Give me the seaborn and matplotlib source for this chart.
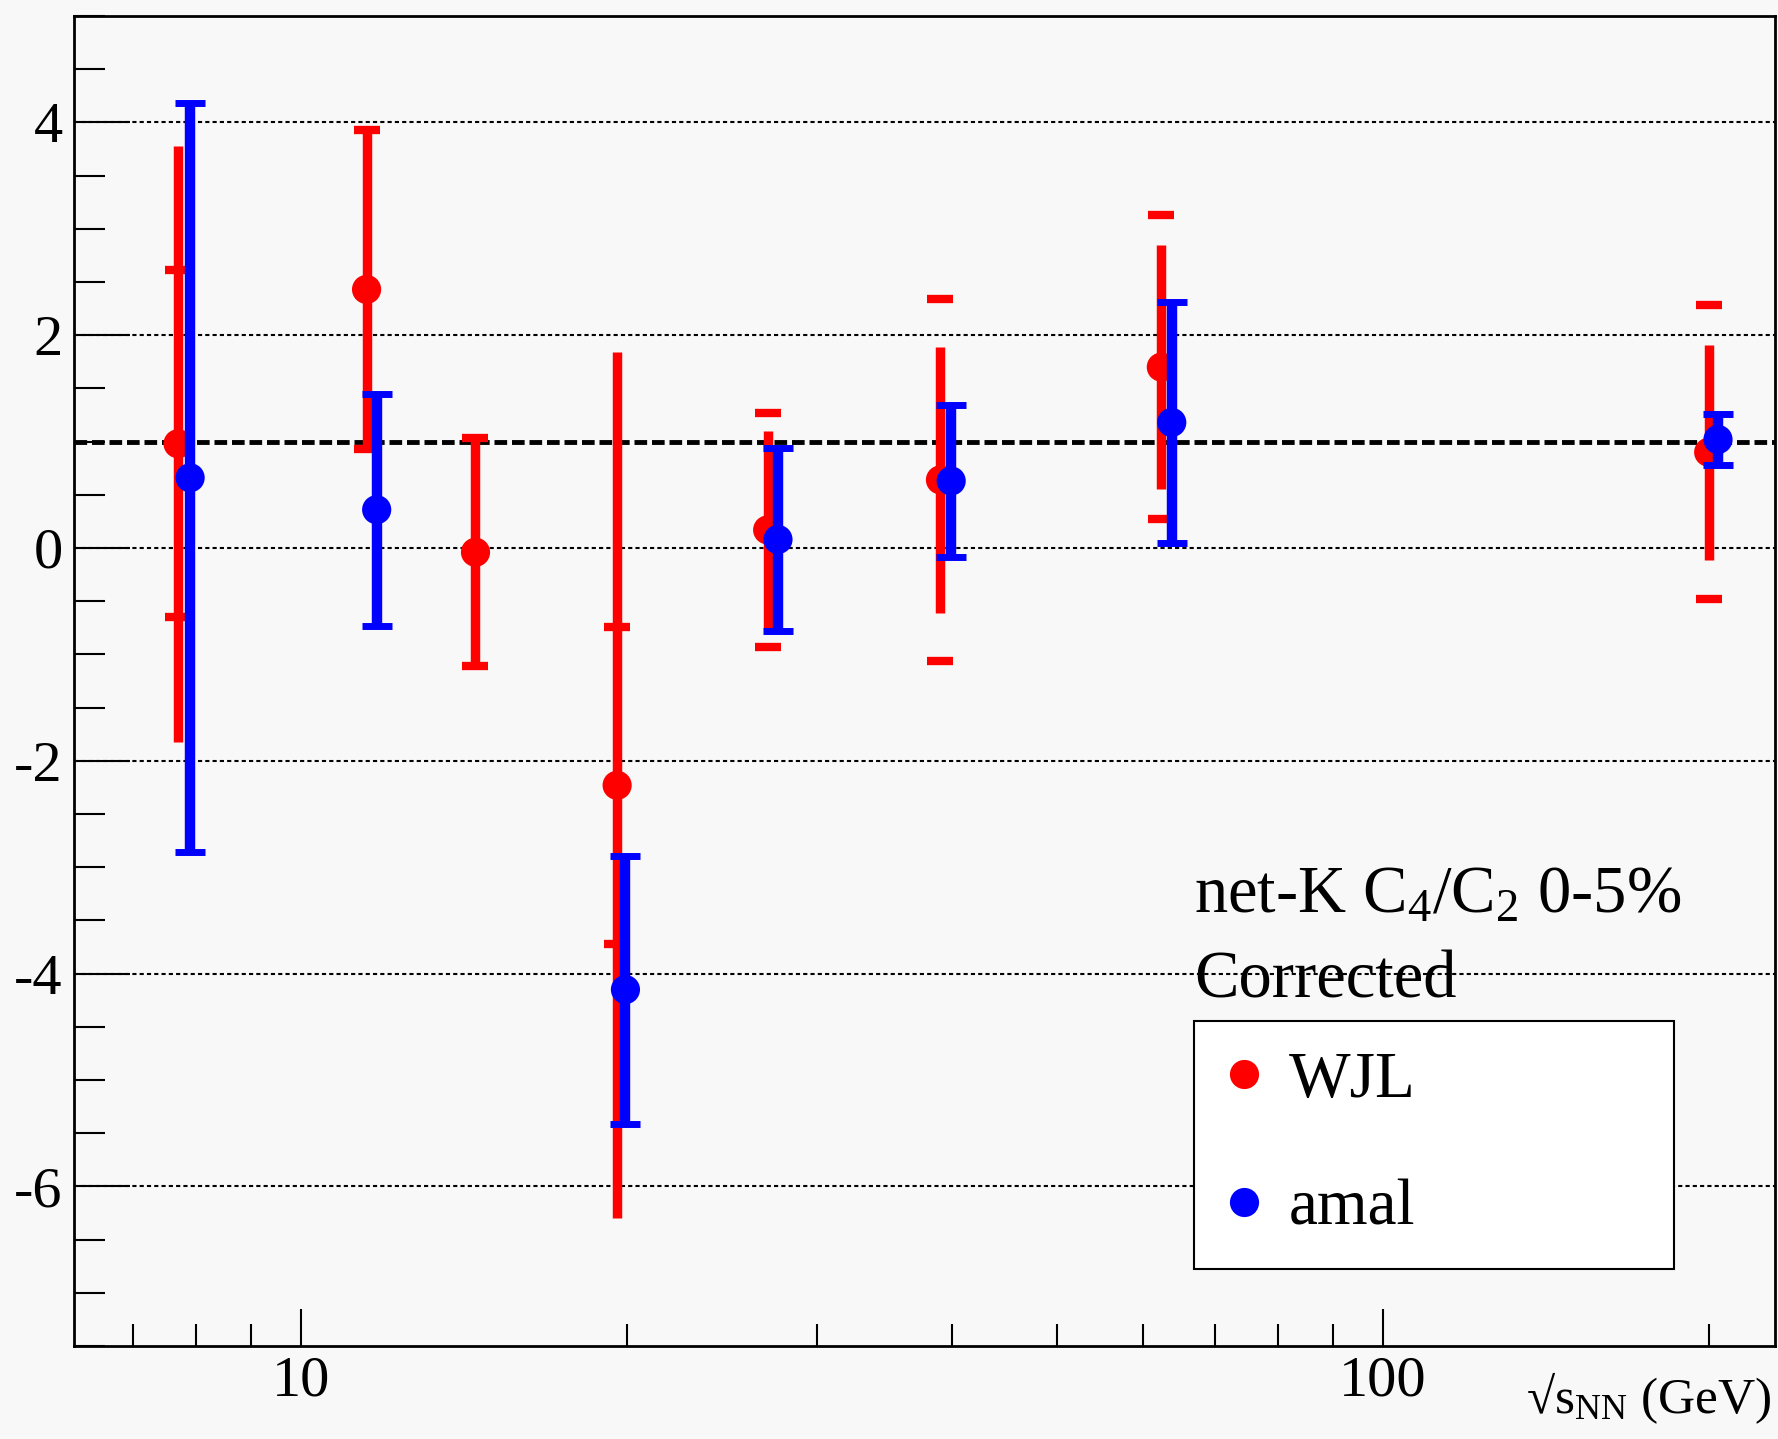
import numpy as np
import pandas as pd
import matplotlib
matplotlib.use("Agg")
import matplotlib.pyplot as plt
import seaborn as sns
from matplotlib.lines import Line2D
from matplotlib.ticker import FixedLocator, FixedFormatter, NullFormatter, MultipleLocator

# ---------------- data ----------------
wjl_energy = [7.7, 11.5, 14.5, 19.6, 27.0, 39.0, 62.4, 200.0]
wjl_value = [0.98, 2.43, -0.04, -2.23, 0.17, 0.64, 1.70, 0.90]
wjl_stat = [2.80, 1.50, 1.07, 4.07, 0.93, 1.25, 1.15, 1.01]
wjl_sys = [1.63, 1.50, 1.07, 1.49, 1.10, 1.70, 1.43, 1.38]

amal_energy = [7.9, 11.75, 19.95, 27.6, 39.9, 63.8, 204.0]
amal_value = [0.66, 0.36, -4.15, 0.08, 0.63, 1.18, 1.02]
amal_err = [3.52, 1.09, 1.26, 0.86, 0.71, 1.13, 0.24]

x_major = [10, 100]
x_major_labels = ["10", "100"]
x_minor = [7, 8, 9, 20, 30, 40, 50, 60, 70, 80, 90, 200]
y_major = [-6, -4, -2, 0, 2, 4]
reference_level = 1.0

series_labels = ["WJL", "amal"]
series_colors = ["red", "blue"]

# ---------------- style ----------------
sns.set_theme(style="ticks")
bg = "#f8f8f8"
plt.rcParams["font.family"] = ["Liberation Serif", "DejaVu Serif"]
plt.rcParams["mathtext.fontset"] = "custom"
plt.rcParams["mathtext.rm"] = "Liberation Serif"
plt.rcParams["mathtext.it"] = "Liberation Serif:italic"
plt.rcParams["mathtext.bf"] = "Liberation Serif:bold"
plt.rcParams["axes.unicode_minus"] = False
for key in ["text.color", "axes.labelcolor", "xtick.color", "ytick.color",
            "xtick.labelcolor", "ytick.labelcolor", "axes.edgecolor"]:
    plt.rcParams[key] = "black"

wjl = pd.DataFrame({"energy": wjl_energy, "value": wjl_value,
                    "stat": wjl_stat, "sys": wjl_sys})
amal = pd.DataFrame({"energy": amal_energy, "value": amal_value, "err": amal_err})

fig = plt.figure(figsize=(17.78, 14.39), dpi=100, facecolor=bg)
ax = fig.add_axes([0.0416, 0.0646, 0.9567, 0.9243])
ax.set_facecolor(bg)
ax.set_xscale("log")
ax.set_xlim(6.17, 230.3)
ax.set_ylim(-7.5, 5.0)

# grid + reference line
for yv in y_major:
    ax.axhline(yv, color="black", lw=1.5, ls=(0, (2, 1.5)), zorder=1)
ax.axhline(reference_level, color="black", lw=3.5, ls=(0, (2.6, 1.0)), zorder=2)

# WJL: statistical bars and systematic ticks
ax.errorbar(wjl["energy"], wjl["value"], yerr=wjl["stat"], fmt="none",
            ecolor=series_colors[0], elinewidth=6.8, capsize=0, zorder=3)
ax.errorbar(wjl["energy"], wjl["value"], yerr=wjl["sys"], fmt="none",
            ecolor=series_colors[0], elinewidth=0, capsize=9.5, capthick=6.0, zorder=3)
sns.scatterplot(data=wjl, x="energy", y="value", color=series_colors[0], s=441,
                edgecolor="none", linewidth=0, ax=ax, legend=False, zorder=4)

# amal
ax.errorbar(amal["energy"], amal["value"], yerr=amal["err"], fmt="none",
            ecolor=series_colors[1], elinewidth=7.5, capsize=10.8, capthick=5.0, zorder=5)
sns.scatterplot(data=amal, x="energy", y="value", color=series_colors[1], s=441,
                edgecolor="none", linewidth=0, ax=ax, legend=False, zorder=6)

# axes / ticks
ax.xaxis.set_major_locator(FixedLocator(x_major))
ax.xaxis.set_major_formatter(FixedFormatter(x_major_labels))
ax.xaxis.set_minor_locator(FixedLocator(x_minor))
ax.xaxis.set_minor_formatter(NullFormatter())
ax.yaxis.set_major_locator(FixedLocator(y_major))
ax.yaxis.set_minor_locator(MultipleLocator(0.5))

ax.tick_params(axis="x", which="major", direction="in", length=27, width=1.5,
               labelsize=42, pad=7, top=False, colors="black")
ax.tick_params(axis="x", which="minor", direction="in", length=16, width=1.5, top=False)
ax.tick_params(axis="y", which="major", direction="in", length=40, width=1.5,
               labelsize=42, pad=8, right=False, colors="black")
ax.tick_params(axis="y", which="minor", direction="in", length=22, width=1.5, right=False)

for sp in ax.spines.values():
    sp.set_visible(True)
    sp.set_color("black")
    sp.set_linewidth(2)

ax.set_xlabel(r"√$\mathrm{s}_{\mathrm{NN}}$ (GeV)", fontsize=37, color="black")
ax.xaxis.set_label_coords(0.998, -0.018)
ax.xaxis.label.set_ha("right")
ax.xaxis.label.set_va("top")
ax.set_ylabel("")

# annotations
ax.text(0.6584, 0.3256, r"net-K $\mathrm{C}_4/\mathrm{C}_2$ 0-5%", transform=ax.transAxes,
        fontsize=48, ha="left", va="baseline", color="black")
ax.text(0.6584, 0.2617, "Corrected", transform=ax.transAxes,
        fontsize=48, ha="left", va="baseline", color="black")

handles = [Line2D([], [], ls="none", marker="o", ms=21, color=c, markeredgewidth=0)
           for c in series_colors]
leg = ax.legend(handles, series_labels, loc="upper left",
                bbox_to_anchor=(0.6584, 0.0594, 0.2822, 0.185), mode="expand",
                fontsize=47, frameon=True, fancybox=False, framealpha=1,
                borderpad=0.46, labelspacing=1.05, handlelength=0.62,
                handletextpad=0.37, borderaxespad=0, labelcolor="black")
leg.get_frame().set_edgecolor("black")
leg.get_frame().set_facecolor("white")
leg.get_frame().set_linewidth(1.5)
leg.set_zorder(10)

fig.savefig("out.png", dpi=100, facecolor=bg)
